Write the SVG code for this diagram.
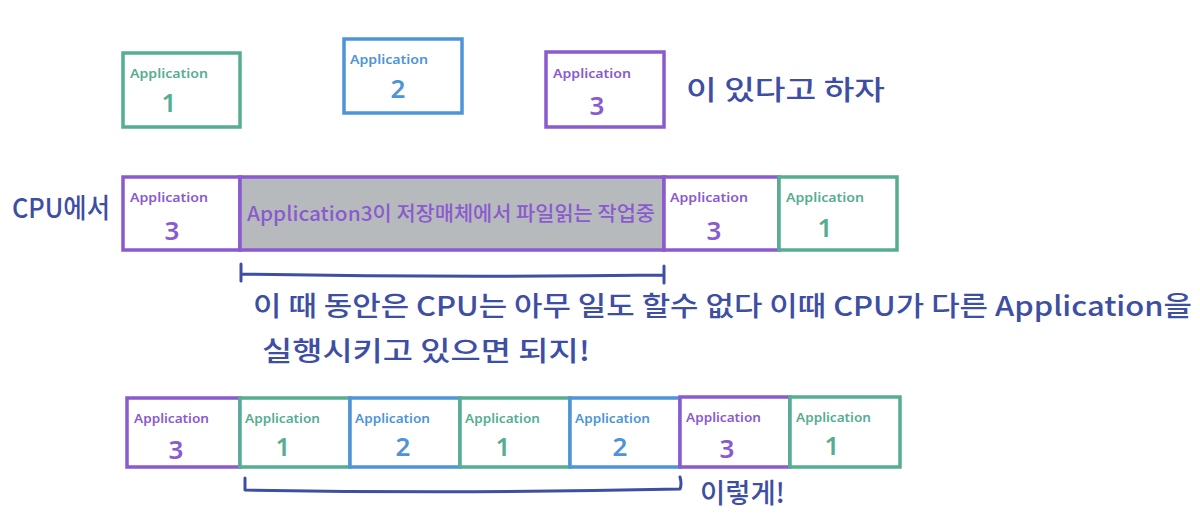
<svg xmlns="http://www.w3.org/2000/svg" width="1200" height="514" viewBox="0 0 1200 514">
<style>
.g{stroke:#55ad92;fill:#fff;stroke-width:3.5}
.b{stroke:#4d94d8;fill:#fff;stroke-width:3.5}
.p{stroke:#8a5acf;fill:#fff;stroke-width:3.5}
.lbl{font-family:"Noto Sans","Noto Sans CJK KR",sans-serif;font-size:13px;font-weight:600}
.num{font-family:"Noto Sans","Noto Sans CJK KR",sans-serif;font-size:26px;font-weight:600;text-anchor:middle}
.tg{fill:#55ad92}.tb{fill:#4d94d8}.tp{fill:#8a5acf}
.t{font-family:"Noto Sans CJK KR",sans-serif;font-size:27px;font-weight:500;fill:#3d4ea3}
.br{fill:none;stroke:#3d4ea3;stroke-width:3;stroke-linecap:round;stroke-linejoin:round}
</style>
<rect width="1200" height="514" fill="#fff"/>
<g id="top-app1"><rect class="g" x="123" y="53" width="117" height="74"/><text class="lbl tg" x="130" y="78" textLength="78" lengthAdjust="spacingAndGlyphs">Application</text><text class="num tg" x="169" y="112">1</text></g>
<g id="top-app2"><rect class="b" x="344" y="39" width="118" height="74"/><text class="lbl tb" x="350" y="64" textLength="78" lengthAdjust="spacingAndGlyphs">Application</text><text class="num tb" x="398" y="98">2</text></g>
<g id="top-app3"><rect class="p" x="546" y="52" width="118" height="75"/><text class="lbl tp" x="553" y="78" textLength="78" lengthAdjust="spacingAndGlyphs">Application</text><text class="num tp" x="597" y="115">3</text></g>
<text class="t" x="686" y="100" textLength="199" lengthAdjust="spacingAndGlyphs">이 있다고 하자</text>
<text class="t" x="12" y="218" font-size="32" textLength="98" lengthAdjust="spacingAndGlyphs">CPU에서</text>
<g id="cpu-app3a"><rect class="p" x="123" y="177" width="117" height="73"/><text class="lbl tp" x="130" y="202" textLength="78" lengthAdjust="spacingAndGlyphs">Application</text><text class="num tp" x="172" y="240">3</text></g>
<g id="cpu-io"><rect x="240" y="177" width="424" height="73" fill="#b7babc" stroke="#8a5acf" stroke-width="3.5"/><text x="247" y="221" font-family="Noto Sans CJK KR,sans-serif" font-size="20" font-weight="500" fill="#8a5acf" textLength="408" lengthAdjust="spacingAndGlyphs">Application3이 저장매체에서 파일읽는 작업중</text></g>
<g id="cpu-app3b"><rect class="p" x="664" y="177" width="115" height="73"/><text class="lbl tp" x="670" y="202" textLength="78" lengthAdjust="spacingAndGlyphs">Application</text><text class="num tp" x="714" y="240">3</text></g>
<g id="cpu-app1"><rect class="g" x="779" y="177" width="118" height="73"/><text class="lbl tg" x="786" y="202" textLength="78" lengthAdjust="spacingAndGlyphs">Application</text><text class="num tg" x="825" y="237">1</text></g>
<g id="bot-app3a"><rect class="p" x="127" y="398" width="113" height="69"/><text class="lbl tp" x="134" y="423" textLength="75" lengthAdjust="spacingAndGlyphs">Application</text><text class="num tp" x="176" y="459">3</text></g>
<g id="bot-app1a"><rect class="g" x="240" y="398" width="110" height="69"/><text class="lbl tg" x="245" y="423" textLength="75" lengthAdjust="spacingAndGlyphs">Application</text><text class="num tg" x="283" y="456">1</text></g>
<g id="bot-app2a"><rect class="b" x="350" y="398" width="110" height="69"/><text class="lbl tb" x="355" y="423" textLength="75" lengthAdjust="spacingAndGlyphs">Application</text><text class="num tb" x="403" y="456">2</text></g>
<g id="bot-app1b"><rect class="g" x="460" y="398" width="110" height="69"/><text class="lbl tg" x="465" y="423" textLength="75" lengthAdjust="spacingAndGlyphs">Application</text><text class="num tg" x="503" y="456">1</text></g>
<g id="bot-app2b"><rect class="b" x="570" y="398" width="110" height="69"/><text class="lbl tb" x="575" y="423" textLength="75" lengthAdjust="spacingAndGlyphs">Application</text><text class="num tb" x="620" y="456">2</text></g>
<g id="bot-app3b"><rect class="p" x="680" y="397" width="110" height="70"/><text class="lbl tp" x="686" y="422" textLength="75" lengthAdjust="spacingAndGlyphs">Application</text><text class="num tp" x="727" y="458">3</text></g>
<g id="bot-app1c"><rect class="g" x="790" y="397" width="110" height="70"/><text class="lbl tg" x="796" y="422" textLength="75" lengthAdjust="spacingAndGlyphs">Application</text><text class="num tg" x="832" y="455">1</text></g>
<g id="connectors">
<path class="br" d="M241,264 V281 M241,274 Q450,278 664,275 M664,266 V283"/>
<path class="br" d="M245,478 V490 Q460,494 680,489 Q682,484 680,477"/>
</g>
<text class="t" x="253" y="316" textLength="939" lengthAdjust="spacingAndGlyphs">이 때 동안은 CPU는 아무 일도 할수 없다 이때 CPU가 다른 Application을</text>
<text class="t" x="262" y="361" textLength="328" lengthAdjust="spacingAndGlyphs">실행시키고 있으면 되지!</text>
<text class="t" x="700" y="503" textLength="85" lengthAdjust="spacingAndGlyphs">이렇게!</text>
</svg>
